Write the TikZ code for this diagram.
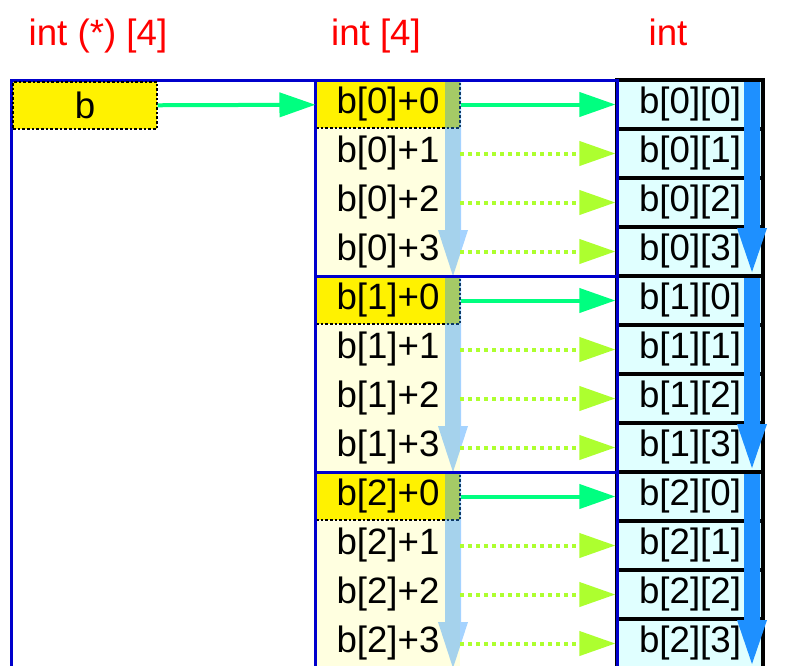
\documentclass[tikz,border=0pt]{standalone}
\usepackage{fontspec}
\setmainfont{Liberation Sans}
\usetikzlibrary{arrows.meta}
\definecolor{boxblue}{RGB}{0,0,204}
\definecolor{ptrgreen}{RGB}{0,255,128}
\definecolor{elemgreen}{RGB}{173,255,47}
\definecolor{cellcream}{RGB}{255,255,224}
\definecolor{cellcyan}{RGB}{224,255,255}
\definecolor{stepblue}{RGB}{30,144,255}
\tikzset{
  cellfont/.style={font=\fontsize{27.5}{30}\selectfont},
  headcell/.style={cellfont, fill=yellow, draw=black, dash pattern=on 2pt off 1.5pt, line width=0.8pt, minimum width=108pt, minimum height=35.25pt, inner sep=0pt},
  rowcell/.style={cellfont, fill=cellcream, minimum width=108pt, minimum height=36.75pt, inner sep=0pt},
  elemcell/.style={cellfont, fill=cellcyan, draw=black, line width=2.4pt, minimum width=109.5pt, minimum height=36.75pt, inner sep=0pt},
  groupbox/.style={draw=boxblue, line width=2.25pt},
  typetitle/.style={text=red, font=\fontsize{27.5}{30}\selectfont, anchor=base},
  rowptr/.style={-{Triangle[length=27pt,width=18pt]}, ptrgreen, line width=3pt},
  elemptr/.style={-{Triangle[length=27pt,width=18pt]}, elemgreen, line width=3pt, dash pattern=on 3pt off 3pt},
}
\begin{document}
\begin{tikzpicture}[x=0.75pt, y=-0.75pt]
\useasboundingbox (0,0) rectangle (812,665);
% type titles
\node[typetitle] (tptr) at (98,45) {int (*) [4]};
\node[typetitle] (trow) at (376,45) {int [4]};
\node[typetitle] (telem) at (668,45) {int};
% pointer variable
\draw[groupbox] (11,80) rectangle (315,700);
\node[headcell] (b) at (85,105.5) {b};
% rows and elements
\foreach \k in {0,...,11}{
  \pgfmathtruncatemacro\g{\k/4}
  \pgfmathtruncatemacro\r{mod(\k,4)}
  \pgfmathsetmacro\y{104.5+49*\k}
  \node[elemcell] (e\k) at (690,\y) {b[\g][\r]};
  \ifnum\r=0
    \node[headcell] (m\k) at (388,\y) {b[\g]+\r};
  \else
    \node[rowcell] (m\k) at (388,\y) {b[\g]+\r};
  \fi
}
\foreach \g in {0,1,2}{
  \pgfmathsetmacro\t{196*\g}
  \draw[groupbox] (315,80+\t) rectangle (617,276+\t);
  % stepping arrows
  \fill[stepblue, fill opacity=.4] (445,82+\t) -- (461,82+\t) -- (461,230+\t) -- (468,230+\t) -- (453,276+\t) -- (438,230+\t) -- (445,230+\t) -- cycle;
  \fill[stepblue] (744,82+\t) -- (760,82+\t) -- (760,228+\t) -- (767,228+\t) -- (752,272+\t) -- (737,228+\t) -- (744,228+\t) -- cycle;
}
% pointers
\draw[rowptr] (b) -- (m0);
\foreach \k in {0,...,11}{
  \pgfmathtruncatemacro\r{mod(\k,4)}
  \ifnum\r=0
    \draw[rowptr] (m\k) -- (e\k);
  \else
    \draw[elemptr] (m\k) -- (e\k);
  \fi
}
\end{tikzpicture}
\end{document}
